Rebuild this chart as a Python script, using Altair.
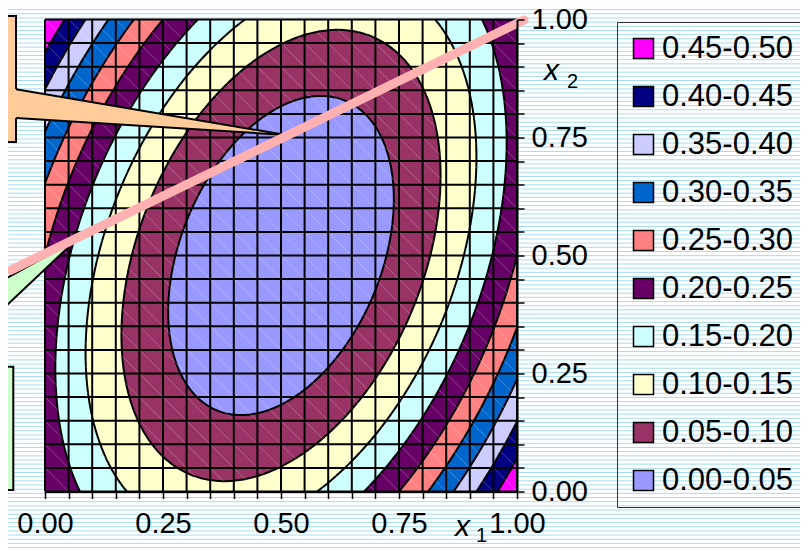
import math
import altair as alt
import numpy as np
import pandas as pd

# ---------------- values ----------------
band_labels = ["0.45-0.50", "0.40-0.45", "0.35-0.40", "0.30-0.35", "0.25-0.30",
               "0.20-0.25", "0.15-0.20", "0.10-0.15", "0.05-0.10", "0.00-0.05"]
band_colors = ["#FF00FF", "#000080", "#CCCCFF", "#0066CC", "#FF8080",
               "#660066", "#CCFFFF", "#FFFFCC", "#993366", "#9999FF"]
band_upper = [0.50, 0.45, 0.40, 0.35, 0.30, 0.25, 0.20, 0.15, 0.10, 0.05]

# contour surface read off the band positions:
# z = A*(x1-c1)^2 + B*(x2-c2)^2 + C*(x1-c1)*(x2-c2)
surface_center = [0.5, 0.5]
surface_coef = [1.0, 0.5, -0.5]

axis_ticks = [round(0.05 * i, 2) for i in range(21)]   # data grid / tick marks
grid_lines = axis_ticks

# straight (pink) line drawn across the chart, in (x1, x2)
line_x1 = [-0.072, 1.015]
line_x2 = [0.469, 0.999]

# ---------------- layout ----------------
PLOT = 472
PAD_L, PAD_T = 37, 11.5
SVG_W, SVG_H = 792, 540
FONT = "Liberation Sans"


def dx(px):  # screen x -> x1
    return (px - 45) / PLOT


def dy(py):  # screen y -> x2
    return (491.5 - py) / PLOT


xs = alt.Scale(domain=[0, 1], nice=False, zero=False)
ys = alt.Scale(domain=[0, 1], nice=False, zero=False)
cscale = alt.Scale(domain=band_labels, range=band_colors)

label_expr = "(round(datum.value*100) % 25 == 0) ? format(datum.value, '.2f') : ''"
x_axis = alt.Axis(values=axis_ticks, labelExpr=label_expr, title=None, grid=False,
                  orient="bottom", tickSize=7, tickWidth=1.5, tickColor="black",
                  domainColor="black", domainWidth=2, labelFont=FONT, labelFontSize=29,
                  labelColor="black", labelPadding=11, labelOverlap=False,
                  labelFlush=False, zindex=1)
y_axis = alt.Axis(values=axis_ticks, labelExpr=label_expr, title=None, grid=False,
                  orient="right", tickSize=7, tickWidth=1.5, tickColor="black",
                  domainColor="black", domainWidth=2, labelFont=FONT, labelFontSize=29,
                  labelColor="black", labelPadding=7, labelOverlap=False,
                  labelFlush=False, zindex=1)
legend = alt.Legend(title=None, orient="none", legendX=572, legendY=2.5,
                    symbolType="square", symbolSize=400, symbolStrokeColor="black",
                    symbolStrokeWidth=1.5, symbolOpacity=1, labelFont=FONT,
                    labelFontSize=31, labelColor="black", labelOffset=3,
                    rowPadding=16, padding=11, strokeColor="#333333",
                    labelExpr="datum.label + '\u00a0'")


def X(f):
    return alt.X(f, type="quantitative", scale=xs, axis=x_axis)


def Y(f):
    return alt.Y(f, type="quantitative", scale=ys, axis=y_axis, stack=None)


layers = []

# background stripes
stripe_df = pd.DataFrame({"sy": [dy(1.3 + 4.17 * i) for i in range(135)]})
layers.append(alt.Chart(stripe_df).mark_rule(color="#a6dcf0", strokeWidth=1).encode(
    y=Y("sy"), x=alt.value(-PAD_L), x2=alt.value(SVG_W - PAD_L)))

# top band fills whole square (also carries the legend)
bg = pd.DataFrame({"x0": [0.0], "x1": [1.0], "y0": [0.0], "y1": [1.0], "band": [band_labels[0]]})
layers.append(alt.Chart(bg).mark_rect(opacity=1).encode(
    x=X("x0"), x2="x1:Q", y=Y("y0"), y2="y1:Q",
    color=alt.Color("band:N", scale=cscale, legend=legend)))

A, B, C = surface_coef
cx, cy = surface_center
D = 4 * A * B - C * C

# nested regions z < level, drawn from the outside in
for lab, k in zip(band_labels[1:], band_upper[1:]):
    umax = math.sqrt(4 * B * k / D)
    t = np.linspace(0, np.pi, 301)
    u = -umax * np.cos(t)
    s = np.sqrt(np.clip(4 * B * k - D * u * u, 0, None))
    vlo = (-C * u - s) / (2 * B)
    vhi = (-C * u + s) / (2 * B)
    df = pd.DataFrame({"x": cx + u, "ylo": cy + vlo, "yhi": cy + vhi, "band": lab})
    layers.append(alt.Chart(df).mark_area(clip=True, opacity=1, interpolate="linear").encode(
        x=X("x"), y=Y("ylo"), y2="yhi:Q",
        color=alt.Color("band:N", scale=cscale, legend=legend)))

# contour lines
rows = []
th = np.linspace(0, 2 * np.pi, 721)
for k in band_upper[1:]:
    den = A * np.cos(th) ** 2 + B * np.sin(th) ** 2 + C * np.cos(th) * np.sin(th)
    r = np.sqrt(k / den)
    for i, (xx, yy) in enumerate(zip(cx + r * np.cos(th), cy + r * np.sin(th))):
        rows.append({"x": xx, "y": yy, "lev": k, "i": i})
cont_df = pd.DataFrame(rows)
layers.append(alt.Chart(cont_df).mark_line(color="black", strokeWidth=2, clip=True).encode(
    x=X("x"), y=Y("y"), detail="lev:N", order="i:Q"))

# faint diagonal streaks inside every cell
cells = [{"a": grid_lines[i], "b": grid_lines[j + 1], "a2": grid_lines[i + 1], "b2": grid_lines[j]}
         for i in range(20) for j in range(20)]
layers.append(alt.Chart(pd.DataFrame(cells)).mark_rule(color="white", opacity=0.25, strokeWidth=1).encode(
    x=X("a"), y=Y("b"), x2="a2:Q", y2="b2:Q"))

# grid of the data cells
gv = pd.DataFrame({"g": grid_lines, "lo": 0.0, "hi": 1.0})
layers.append(alt.Chart(gv).mark_rule(color="black", strokeWidth=2).encode(
    x=X("g"), y=Y("lo"), y2="hi:Q"))
layers.append(alt.Chart(gv).mark_rule(color="black", strokeWidth=2).encode(
    y=Y("g"), x=X("lo"), x2="hi:Q"))


# callouts (cut by the left edge)
def callout(box_x, box_y, wedge_x, wedge_top, wedge_bot, edges, fill):
    out = []
    bdf = pd.DataFrame({"x0": [box_x[0]], "x1": [box_x[1]], "y0": [box_y[0]], "y1": [box_y[1]]})
    out.append(alt.Chart(bdf).mark_rect(fill=fill, stroke="black", strokeWidth=2, opacity=1).encode(
        x=X("x0"), x2="x1:Q", y=Y("y0"), y2="y1:Q"))
    wdf = pd.DataFrame({"x": wedge_x, "t": wedge_top, "b": wedge_bot})
    out.append(alt.Chart(wdf).mark_area(color=fill, opacity=1).encode(
        x=X("x"), y=Y("t"), y2="b:Q"))
    edf = pd.DataFrame(edges)
    out.append(alt.Chart(edf).mark_line(color="black", strokeWidth=2).encode(
        x=X("x"), y=Y("y"), detail="s:N", order="o:Q"))
    return out


layers += callout(
    [dx(-30), dx(16)], [dy(142), dy(16)],
    [dx(12), dx(286)], [dy(88.6), dy(135)], [dy(117.75), dy(135)],
    [{"x": dx(16), "y": dy(89.3), "s": "a", "o": 0}, {"x": dx(286), "y": dy(135), "s": "a", "o": 1},
     {"x": dx(16), "y": dy(118), "s": "b", "o": 0}, {"x": dx(286), "y": dy(135), "s": "b", "o": 1}],
    "#FFCC99")
layers += callout(
    [dx(-30), dx(13.3)], [dy(490), dy(366.7)],
    [dx(-10), dx(76)], [dy(287.2), dy(240)], [dy(321.1), dy(240)],
    [{"x": dx(-10), "y": dy(287.2), "s": "a", "o": 0}, {"x": dx(76), "y": dy(240), "s": "a", "o": 1},
     {"x": dx(-10), "y": dy(321.1), "s": "b", "o": 0}, {"x": dx(76), "y": dy(240), "s": "b", "o": 1}],
    "#CCFFCC")

# pink line
pl = pd.DataFrame({"x": line_x1, "y": line_x2})
layers.append(alt.Chart(pl).mark_line(color="#FFB0B0", strokeWidth=9, strokeCap="round").encode(
    x=X("x"), y=Y("y")))

# axis titles x1 / x2 (italic x with subscript)
tx = pd.DataFrame({"x": [dx(544), dx(455)], "y": [dy(80), dy(536)], "t": ["x", "x"]})
ts = pd.DataFrame({"x": [dx(567), dx(476)], "y": [dy(88), dy(542)], "t": ["2", "1"]})
layers.append(alt.Chart(tx).mark_text(font=FONT, fontSize=30, fontStyle="italic", color="black",
                                      align="left", baseline="alphabetic").encode(
    x=X("x"), y=Y("y"), text="t:N"))
layers.append(alt.Chart(ts).mark_text(font=FONT, fontSize=20, color="black",
                                      align="left", baseline="alphabetic").encode(
    x=X("x"), y=Y("y"), text="t:N"))

chart = alt.layer(*layers).properties(
    width=PLOT, height=PLOT,
    autosize=alt.AutoSizeParams(type="none"),
    padding={"left": PAD_L, "top": PAD_T, "right": SVG_W - PAD_L - PLOT,
             "bottom": SVG_H - PAD_T - PLOT},
    background="white",
).configure_view(stroke=None)

chart.save("out.html", embed_options={"renderer": "svg", "actions": False})
